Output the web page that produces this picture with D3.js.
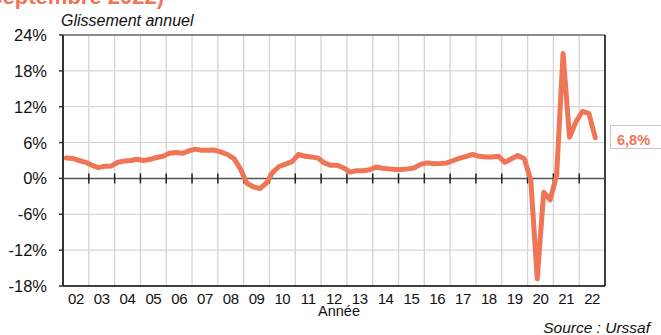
<!DOCTYPE html>
<html>
<head>
<meta charset="utf-8">
<script src="https://d3js.org/d3.v7.min.js"></script>
<style>
  body { margin: 0; background: #fff; }
  text { font-family: "Liberation Sans", Arial, sans-serif; }
</style>
</head>
<body>
<svg id="vis"></svg>
<script>
    let width = 661, height = 335;

    // chart data
    let years = d3.range(2002, 2023);
    let yearLabels = ["02", "03", "04", "05", "06", "07", "08", "09", "10", "11",
        "12", "13", "14", "15", "16", "17", "18", "19", "20", "21", "22"];
    let yTicks = [-18, -12, -6, 0, 6, 12, 18, 24];
    // quarterly year-on-year change (%), 2002 Q1 -> 2022 Q3
    let values = [
        3.4, 3.35, 3.0, 2.7,
        2.2, 1.8, 2.05, 2.1,
        2.7, 2.9, 3.0, 3.2,
        3.0, 3.2, 3.5, 3.7,
        4.2, 4.35, 4.2, 4.6,
        4.9, 4.7, 4.7, 4.75,
        4.4, 4.0, 3.3, 1.6,
        -0.8, -1.4, -1.7, -0.8,
        1.0, 2.0, 2.4, 2.8,
        4.0, 3.7, 3.6, 3.4,
        2.6, 2.2, 2.2, 1.75,
        1.05, 1.3, 1.3, 1.45,
        1.9, 1.7, 1.6, 1.5,
        1.5, 1.6, 1.8, 2.4,
        2.6, 2.45, 2.5, 2.6,
        3.0, 3.4, 3.7, 4.0,
        3.7, 3.6, 3.6, 3.7,
        2.7, 3.3, 3.85, 3.3,
        -0.3, -16.8, -2.3, -3.6,
        0.5, 20.9, 6.9, 9.5,
        11.2, 10.9, 6.8
    ];
    let lastLabel = "6,8%";

    let orange = "#ef7556";
    let pLeft = 63, pRight = 605, pTop = 35, pBottom = 286;

    let svg = d3.select("#vis").attr("width", width).attr("height", height);

    let x = d3.scaleLinear().domain([2002, 2023]).range([pLeft, pRight]);
    let y = d3.scaleLinear().domain([-18, 24]).range([pBottom, pTop]);

    let points = values.map((v, i) => ({
        t: 2002 + Math.floor(i / 4) + ((i % 4) + 0.5) / 4,
        v: v
    }));

    // title (cut at the top of the picture)
    svg.append("text")
        .attr("x", 164).attr("y", 4)
        .attr("text-anchor", "end")
        .attr("font-size", 22).attr("font-weight", "bold")
        .attr("fill", orange)
        .text("(données à fin septembre 2022)");

    svg.append("text")
        .attr("x", 61).attr("y", 26)
        .attr("font-size", 16).attr("font-style", "italic")
        .attr("fill", "#111")
        .text("Glissement annuel");

    // grid
    svg.append("g")
        .selectAll("line")
        .data(yTicks.filter(d => d != 0 && d != 24 && d != -18))
        .join("line")
        .attr("x1", pLeft).attr("x2", pRight)
        .attr("y1", d => y(d)).attr("y2", d => y(d))
        .attr("stroke", "#cfcfcf").attr("stroke-width", 1);

    svg.append("g")
        .selectAll("line")
        .data(years.slice(1))
        .join("line")
        .attr("x1", d => x(d)).attr("x2", d => x(d))
        .attr("y1", pTop).attr("y2", pBottom)
        .attr("stroke", "#d4d4d4").attr("stroke-width", 1.3);

    // frame
    svg.append("line")
        .attr("x1", pLeft).attr("x2", pRight).attr("y1", pTop).attr("y2", pTop)
        .attr("stroke", "#666").attr("stroke-width", 1.5);
    svg.append("line")
        .attr("x1", pRight).attr("x2", pRight).attr("y1", pTop).attr("y2", pBottom)
        .attr("stroke", "#000").attr("stroke-width", 1.5);
    svg.append("line")
        .attr("x1", pLeft).attr("x2", pRight).attr("y1", pBottom).attr("y2", pBottom)
        .attr("stroke", "#000").attr("stroke-width", 1.5);

    // zero line with ticks
    svg.append("line")
        .attr("x1", pLeft).attr("x2", pRight).attr("y1", y(0)).attr("y2", y(0))
        .attr("stroke", "#555").attr("stroke-width", 1.5);
    svg.append("g")
        .selectAll("line")
        .data(years.slice(1))
        .join("line")
        .attr("x1", d => x(d)).attr("x2", d => x(d))
        .attr("y1", y(0) - 5).attr("y2", y(0) + 5)
        .attr("stroke", "#222").attr("stroke-width", 1.5);

    // left axis
    svg.append("line")
        .attr("x1", pLeft).attr("x2", pLeft).attr("y1", pTop).attr("y2", pBottom)
        .attr("stroke", "#333").attr("stroke-width", 2);
    svg.append("g")
        .selectAll("line")
        .data(yTicks)
        .join("line")
        .attr("x1", pLeft - 4).attr("x2", pLeft)
        .attr("y1", d => y(d)).attr("y2", d => y(d))
        .attr("stroke", "#333").attr("stroke-width", 1.5);

    svg.append("g")
        .selectAll("text")
        .data(yTicks)
        .join("text")
        .attr("x", 47)
        .attr("y", d => y(d))
        .attr("dy", "0.36em")
        .attr("text-anchor", "end")
        .attr("font-size", 16.5)
        .attr("fill", "#111")
        .text(d => d + "%");

    svg.append("g")
        .selectAll("text")
        .data(years)
        .join("text")
        .attr("x", d => x(d + 0.5))
        .attr("y", 303.5)
        .attr("text-anchor", "middle")
        .attr("font-size", 15)
        .attr("letter-spacing", -0.4)
        .attr("fill", "#111")
        .text((d, i) => yearLabels[i]);

    svg.append("text")
        .attr("x", 339).attr("y", 316)
        .attr("text-anchor", "middle")
        .attr("font-size", 14.5)
        .attr("fill", "#111")
        .text("Année");

    svg.append("text")
        .attr("x", 650).attr("y", 333)
        .attr("text-anchor", "end")
        .attr("font-size", 15.5).attr("font-style", "italic")
        .attr("fill", "#111")
        .text("Source : Urssaf");

    // series
    let line = d3.line()
        .x(d => x(d.t))
        .y(d => y(d.v));

    svg.append("path")
        .datum(points)
        .attr("d", line)
        .attr("fill", "none")
        .attr("stroke", orange)
        .attr("stroke-width", 5)
        .attr("stroke-linejoin", "round")
        .attr("stroke-linecap", "round");

    // last value label
    svg.append("rect")
        .attr("x", 610.5).attr("y", 125.5)
        .attr("width", 60).attr("height", 23)
        .attr("fill", "#fff")
        .attr("stroke", "#c8c8c8");
    svg.append("text")
        .attr("x", 617).attr("y", 145)
        .attr("font-size", 14.5).attr("font-weight", "bold")
        .attr("fill", orange)
        .text(lastLabel);
</script>
</body>
</html>
